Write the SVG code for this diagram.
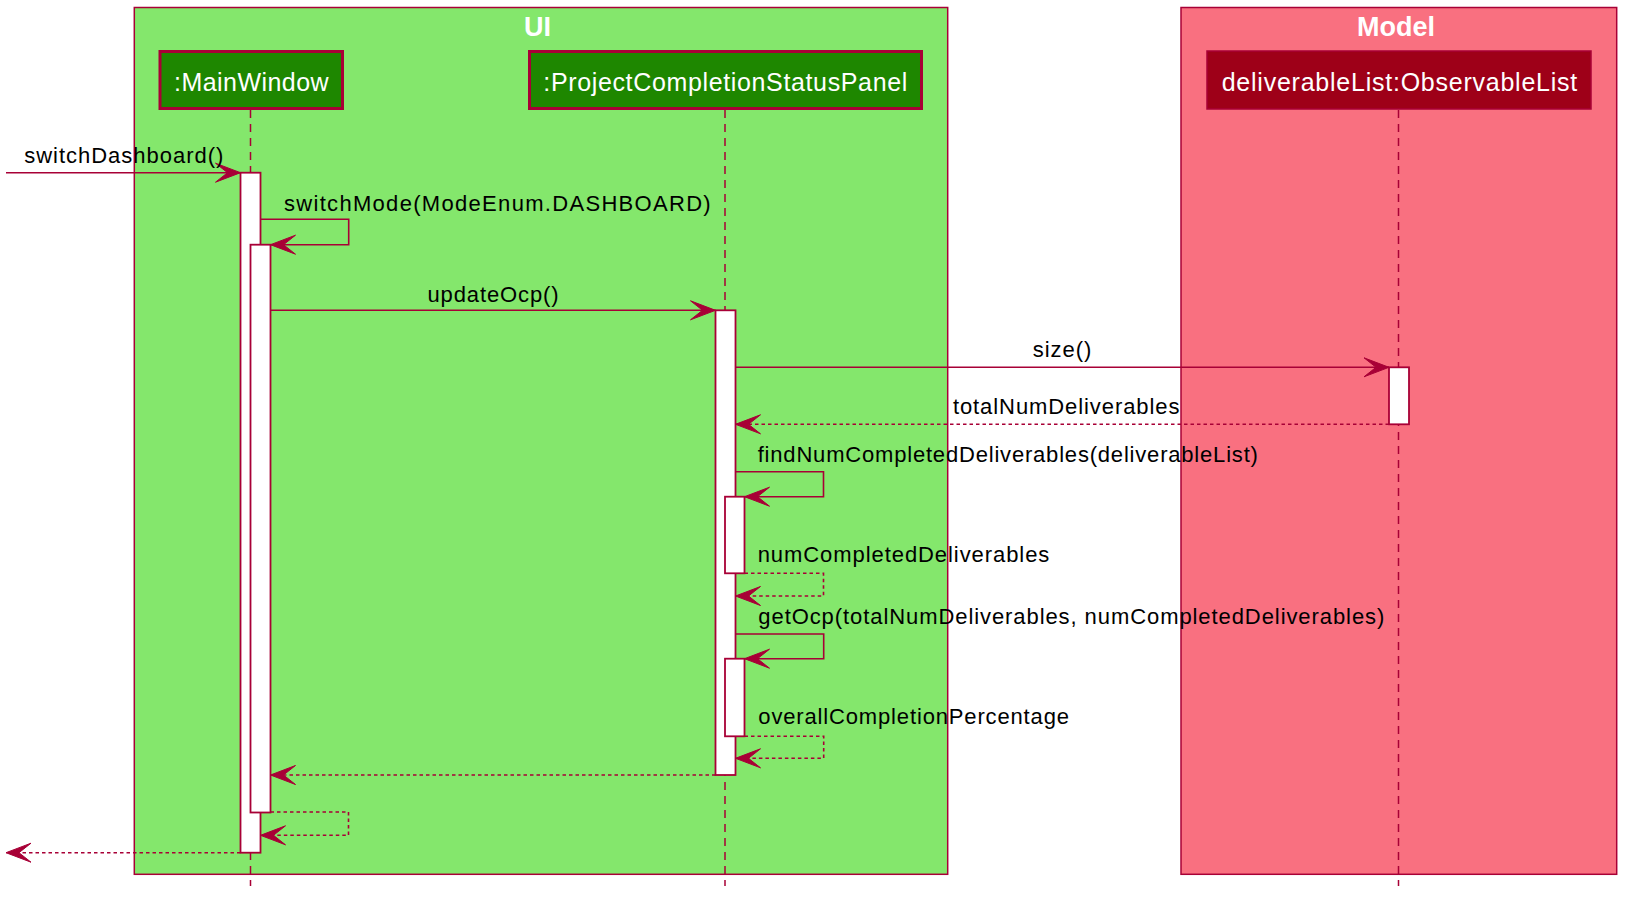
<svg xmlns="http://www.w3.org/2000/svg" width="1635" height="906" viewBox="0 0 1635 906">
<defs>
<style>
.box{stroke:#A80036;stroke-width:1.5}
.title{font-family:"Liberation Sans",Arial,sans-serif;font-weight:bold;font-size:27px;fill:#FFFFFF;text-anchor:middle}
.ptext{font-family:"Liberation Sans",Arial,sans-serif;font-size:25px;fill:#FFFFFF}
.mtext{font-family:"Liberation Sans",Arial,sans-serif;font-size:22px;fill:#000000}
.life{stroke:#A80036;stroke-width:1.5;stroke-dasharray:8,6;fill:none}
.act{fill:#FFFFFF;stroke:#A80036;stroke-width:1.8}
.msg{stroke:#A80036;stroke-width:1.6;fill:none;marker-end:url(#ah)}
.ret{stroke:#A80036;stroke-width:1.6;fill:none;stroke-dasharray:3.5,3;marker-end:url(#ah)}
</style>
<marker id="ah" markerUnits="userSpaceOnUse" viewBox="-26 -10 27 20" refX="0" refY="0" markerWidth="27" markerHeight="20" orient="auto" overflow="visible">
<path d="M0,0 L-25,-9.5 L-13,0 L-25,9.5 Z" fill="#A80036" stroke="#A80036" stroke-width="1"/>
</marker>
</defs>
<rect width="1635" height="906" fill="#FFFFFF"/>
<g id="box-ui">
<rect class="box" x="134.3" y="7.5" width="813.4" height="866.8" fill="#84E76C"/>
<text class="title" x="537.5" y="36">UI</text>
</g>
<g id="box-model">
<rect class="box" x="1181" y="7.5" width="435.7" height="866.8" fill="#F97080"/>
<text class="title" x="1396" y="36">Model</text>
</g>
<g id="lifelines">
<line class="life" x1="250.5" y1="110" x2="250.5" y2="886"/>
<line class="life" x1="725" y1="110" x2="725" y2="886"/>
<line class="life" x1="1398.5" y1="110" x2="1398.5" y2="886"/>
</g>
<g id="p-mainwindow">
<rect x="160" y="51.5" width="182.5" height="57" fill="#1E8700" stroke="#A80036" stroke-width="3"/>
<text class="ptext" x="174" y="90.5" textLength="154.6" lengthAdjust="spacing">:MainWindow</text>
</g>
<g id="p-pcsp">
<rect x="529.5" y="51.5" width="392" height="57" fill="#1E8700" stroke="#A80036" stroke-width="3"/>
<text class="ptext" x="543.3" y="90.5" textLength="364" lengthAdjust="spacing">:ProjectCompletionStatusPanel</text>
</g>
<g id="p-deliverablelist">
<rect x="1207" y="51" width="384" height="58" fill="#9E0018" stroke="#A80036" stroke-width="1.5"/>
<text class="ptext" x="1221.7" y="90.5" textLength="355.6" lengthAdjust="spacing">deliverableList:ObservableList</text>
</g>
<g id="activations">
<rect class="act" x="240.5" y="172.7" width="20" height="680"/>
<rect class="act" x="250.5" y="244.7" width="20" height="567.8"/>
<rect class="act" x="715.5" y="310.3" width="20" height="464.7"/>
<rect class="act" x="725" y="496.7" width="19.5" height="76.6"/>
<rect class="act" x="725" y="658.7" width="19.5" height="77.6"/>
<rect class="act" x="1389" y="367.3" width="20" height="57"/>
</g>
<g id="connectors">
<line class="msg" x1="6" y1="172.7" x2="240.5" y2="172.7"/>
<path class="msg" d="M260.5,219.3 H348.7 V244.7 H270.5"/>
<line class="msg" x1="270.5" y1="310.3" x2="715.5" y2="310.3"/>
<line class="msg" x1="735.5" y1="367.3" x2="1389" y2="367.3"/>
<line class="ret" x1="1389" y1="424.3" x2="735.5" y2="424.3"/>
<path class="msg" d="M735.5,471.7 H823.5 V496.7 H744.5"/>
<path class="ret" d="M744.5,573.3 H823.5 V596 H735.5"/>
<path class="msg" d="M735.5,634 H823.7 V658.7 H744.5"/>
<path class="ret" d="M744.5,736.3 H823.7 V758.3 H735.5"/>
<line class="ret" x1="715.5" y1="775" x2="270.5" y2="775"/>
<path class="ret" d="M270.5,812 H348.5 V835.3 H260.5"/>
<line class="ret" x1="240.5" y1="852.7" x2="6" y2="852.7"/>
</g>
<g id="labels">
<text class="mtext" x="24.3" y="162.5" textLength="199" lengthAdjust="spacing">switchDashboard()</text>
<text class="mtext" x="284" y="210.5" textLength="426.7" lengthAdjust="spacing">switchMode(ModeEnum.DASHBOARD)</text>
<text class="mtext" x="427.5" y="301.5" textLength="131" lengthAdjust="spacing">updateOcp()</text>
<text class="mtext" x="1032.8" y="357" textLength="58.6" lengthAdjust="spacing">size()</text>
<text class="mtext" x="952.9" y="414" textLength="226.5" lengthAdjust="spacing">totalNumDeliverables</text>
<text class="mtext" x="757.7" y="461.7" textLength="500.2" lengthAdjust="spacing">findNumCompletedDeliverables(deliverableList)</text>
<text class="mtext" x="757.7" y="561.7" textLength="291.6" lengthAdjust="spacing">numCompletedDeliverables</text>
<text class="mtext" x="758.3" y="624" textLength="626" lengthAdjust="spacing">getOcp(totalNumDeliverables, numCompletedDeliverables)</text>
<text class="mtext" x="758.3" y="724" textLength="310.7" lengthAdjust="spacing">overallCompletionPercentage</text>
</g>
</svg>
